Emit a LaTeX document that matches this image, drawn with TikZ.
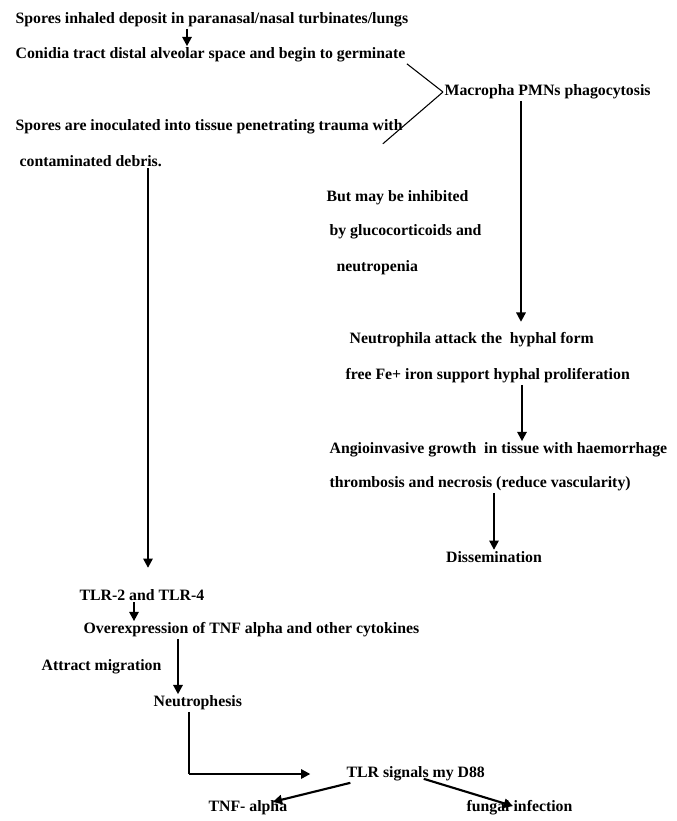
\documentclass[tikz,border=0pt]{standalone}
\usepackage{fontspec}
\setmainfont{Liberation Serif}
\usepackage{tikz}
\usetikzlibrary{arrows.meta,calc}
\tikzset{
  txt/.style={anchor=west,inner sep=1pt,font=\bfseries\fontsize{11.85}{14}\selectfont},
  arrow/.style={-{Triangle[length=7pt,width=7pt]},line width=1.6pt},
  thinline/.style={line width=0.8pt}
}

\begin{document}
\begin{tikzpicture}[x=0.75pt,y=-0.75pt]
  \useasboundingbox (0,0) rectangle (677,821);

  % entry routes
  \node[txt] (spores) at (14,20) {Spores inhaled deposit in paranasal/nasal turbinates/lungs};
  \node[txt] (conidia) at (14,55) {Conidia tract distal alveolar space and begin to germinate};
  \node[txt] (macro) at (443,92) {Macropha PMNs phagocytosis};
  \node[txt] (inoc) at (14,127) {Spores are inoculated into tissue penetrating trauma with};
  \node[txt] (debris) at (18,161) {contaminated debris.};

  % right branch
  \node[txt] (inhib1) at (325,198) {But may be inhibited};
  \node[txt] (inhib2) at (328,232) {by glucocorticoids and};
  \node[txt] (inhib3) at (335,268) {neutropenia};
  \node[txt] (neutro1) at (348,340) {Neutrophila attack the \ hyphal form};
  \node[txt] (neutro2) at (344,376) {free Fe+ iron support hyphal proliferation};
  \node[txt] (angio1) at (328,450) {Angioinvasive growth \ in tissue with haemorrhage};
  \node[txt] (angio2) at (328,484) {thrombosis and necrosis (reduce vascularity)};
  \node[txt,anchor=center] (dissem) at (494,557) {Dissemination};

  % left branch
  \node[txt] (tlr) at (78,595) {TLR-2 and TLR-4};
  \node[txt] (overexp) at (82,630) {Overexpression of TNF alpha and other cytokines};
  \node[txt] (attract) at (40,667) {Attract migration};
  \node[txt] (neutroph) at (152,703) {Neutrophesis};
  \node[txt] (tlrsig) at (345,774) {TLR signals my D88};
  \node[txt] (tnf) at (207,808) {TNF- alpha};
  \node[txt] (fungal) at (465,808) {fungal infection};

  \draw[arrow] (spores.south -| 187,0) -- (conidia.north -| 187,0);
  \draw[thinline] (conidia.south east) -- (macro.west);
  \draw[thinline] ([xshift=-16pt,yshift=-6pt]inoc.south east) -- (macro.west);
  \draw[arrow,shorten >=7pt] (macro.south -| 521,0) -- (neutro1.north -| 521,0);
  \draw[arrow] (neutro2.south -| 522,0) -- (angio1.north -| 522,0);
  \draw[arrow] (angio2.south -| 494,0) -- (dissem.north);
  \draw[arrow,shorten >=15pt] (debris.south -| 148,0) -- (tlr.north -| 148,0);
  \draw[arrow] (tlr.south -| 134,0) -- (overexp.north -| 134,0);
  \draw[arrow] (overexp.south -| 178,0) -- (neutroph.north -| 178,0);
  \draw[thinline] (neutroph.south -| 189,0) -- (tlrsig.west -| 189,0) coordinate (corner);
  \draw[arrow] (corner) -- ([xshift=-26pt]tlrsig.west);
  \draw[arrow] ([xshift=4pt]tlrsig.south west) -- ([xshift=-12pt,yshift=-2pt]tnf.north east);
  \draw[arrow,shorten >=5pt] ([xshift=6pt,yshift=3pt]tlrsig.south) -- (fungal.center);
\end{tikzpicture}
\end{document}
